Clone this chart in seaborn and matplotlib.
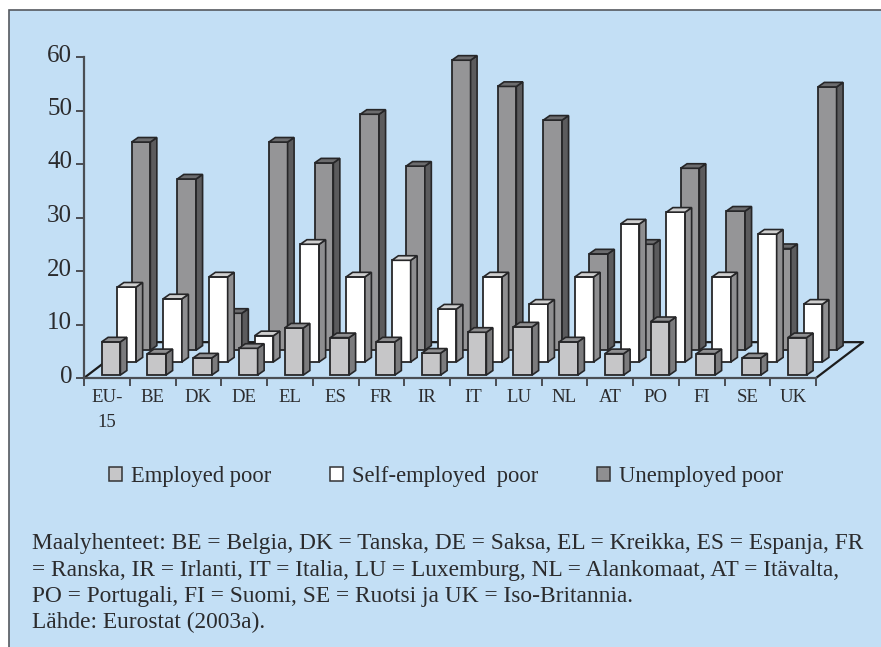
import numpy as np
import pandas as pd
import matplotlib
matplotlib.use("Agg")
import matplotlib.pyplot as plt
import seaborn as sns
from matplotlib.patches import Patch, Polygon, Rectangle
from matplotlib.transforms import ScaledTranslation

categories = ["EU-\n15", "BE", "DK", "DE", "EL", "ES", "FR", "IR", "IT", "LU", "NL", "AT", "PO", "FI", "SE", "UK"]
employed = [6.2, 4.0, 3.2, 5.0, 8.8, 7.0, 6.2, 4.1, 8.0, 9.0, 6.2, 4.0, 10.0, 4.0, 3.2, 7.0]
self_employed = [14.0, 11.8, 15.9, 4.9, 22.0, 15.9, 19.0, 9.9, 15.9, 10.8, 15.9, 25.8, 28.0, 15.9, 23.9, 10.8]
unemployed = [38.9, 32.0, 6.9, 38.9, 35.0, 44.1, 34.4, 54.2, 49.3, 43.0, 18.0, 19.8, 34.0, 26.0, 19.0, 49.2]
series_names = ["Employed poor", "Self-employed  poor", "Unemployed poor"]
y_ticks = [0, 10, 20, 30, 40, 50, 60]
note_lines = [
    "Maalyhenteet: BE = Belgia, DK = Tanska, DE = Saksa, EL = Kreikka, ES = Espanja, FR",
    "= Ranska, IR = Irlanti, IT = Italia, LU = Luxemburg, NL = Alankomaat, AT = Itävalta,",
    "PO = Portugali, FI = Suomi, SE = Ruotsi ja UK = Iso-Britannia.",
    "Lähde: Eurostat (2003a).",
]

W, H = 881, 647
BG = "#c3dff5"
INK = "#2b2b2d"
AXIS = "#4a4e54"

sns.set_theme(style="white")
plt.rcParams["font.family"] = ["Liberation Serif", "DejaVu Serif"]

fig = plt.figure(figsize=(W / 100, H / 100), dpi=100, facecolor="white")
fig.add_artist(Rectangle((9 / W, -0.01), 1, 1 - 9.5 / H + 0.01, transform=fig.transFigure,
                         facecolor=BG, edgecolor="#55595f", linewidth=1.2, zorder=-1))
ax = fig.add_axes([84 / W, 1 - 378 / H, 732 / W, 321 / H])
ax.patch.set_alpha(0)

# depth of the fake 3d floor and of each bar, in data units
floor_dx, floor_dy = 1.03, 6.7
bar_dx, bar_dy = 0.142, 0.85
styles = [
    # values, x shift, lift, front, top, side
    (unemployed, 0.655, 5.2, "#959597", "#6c6c6e", "#5b5b5d"),
    (self_employed, 0.345, 3.0, "#ffffff", "#d0d0d0", "#8e8e90"),
    (employed, 0.0, 0.55, "#c6c6c8", "#8f8f91", "#7b7b7d"),
]

ax.plot([0, floor_dx, 16 + floor_dx, 16], [0, floor_dy, floor_dy, 0], color="#1c1c1c", lw=1.6,
        clip_on=False, zorder=1)

pos = np.arange(len(categories)) + 0.59
for n, (vals, shift, lift, front, top, side) in enumerate(styles):
    df = pd.DataFrame({"pos": pos + shift, "value": vals})
    sns.barplot(data=df, x="pos", y="value", native_scale=True, width=0.41, color=front, saturation=1,
                errorbar=None, bottom=lift, edgecolor="#262628", linewidth=1.3, zorder=3 + n, ax=ax)
    for bar in ax.containers[-1]:
        x0, y0, w, h = bar.get_x(), bar.get_y(), bar.get_width(), bar.get_height()
        x1, y1 = x0 + w, y0 + h
        bar.set_clip_on(False)
        ax.add_patch(Polygon([(x1, y0), (x1 + bar_dx, y0 + bar_dy), (x1 + bar_dx, y1 + bar_dy), (x1, y1)],
                             facecolor=side, edgecolor="#262628", lw=1.2, zorder=3 + n, clip_on=False))
        ax.add_patch(Polygon([(x0, y1), (x0 + bar_dx, y1 + bar_dy), (x1 + bar_dx, y1 + bar_dy), (x1, y1)],
                             facecolor=top, edgecolor="#262628", lw=1.2, zorder=3 + n, clip_on=False))

ax.set_xlim(0, 16)
ax.set_ylim(0, 60)
ax.set_xlabel("")
ax.set_ylabel("")
sns.despine(ax=ax)
for s in ["left", "bottom"]:
    ax.spines[s].set_color(AXIS)
    ax.spines[s].set_linewidth(1.6)
    ax.spines[s].set_zorder(2)

ax.set_yticks(y_ticks)
ax.set_yticklabels([str(t) for t in y_ticks], fontsize=18, color=INK)
ax.tick_params(axis="y", left=True, length=6, width=1.4, color=AXIS, pad=2.5)
up = ScaledTranslation(0, 4 / 100, fig.dpi_scale_trans)
for lab in ax.get_yticklabels():
    lab.set_transform(lab.get_transform() + up)

ax.set_xticks(np.arange(len(categories) + 1))
ax.set_xticklabels([])
ax.set_xticks(np.arange(len(categories)) + 0.5, labels=categories, minor=True, fontsize=13.5, color=INK,
              linespacing=1.6)
ax.tick_params(axis="x", which="major", bottom=True, length=6, width=1.4, color=AXIS)
ax.tick_params(axis="x", which="minor", bottom=False, length=0, pad=8)
for lab in ax.get_xticklabels(minor=True):
    lab.set_verticalalignment("top")

handles = [Patch(facecolor=c, edgecolor="#333335", linewidth=1.1) for c in ["#c6c6c8", "#ffffff", "#8f8f91"]]
fig.legend(handles, series_names, ncol=3, frameon=False, loc="center left",
           bbox_to_anchor=(109 / W, 1 - 476.5 / H), borderpad=0, borderaxespad=0, fontsize=16.25, labelcolor=INK,
           handlelength=0.58, handleheight=0.58, handletextpad=0.4, columnspacing=2.6)

for line, base in zip(note_lines, [549, 576, 602, 628]):
    fig.text(32 / W, 1 - base / H, line, fontsize=16.85, color=INK, va="baseline", ha="left")

fig.savefig("out.png", dpi=100)
